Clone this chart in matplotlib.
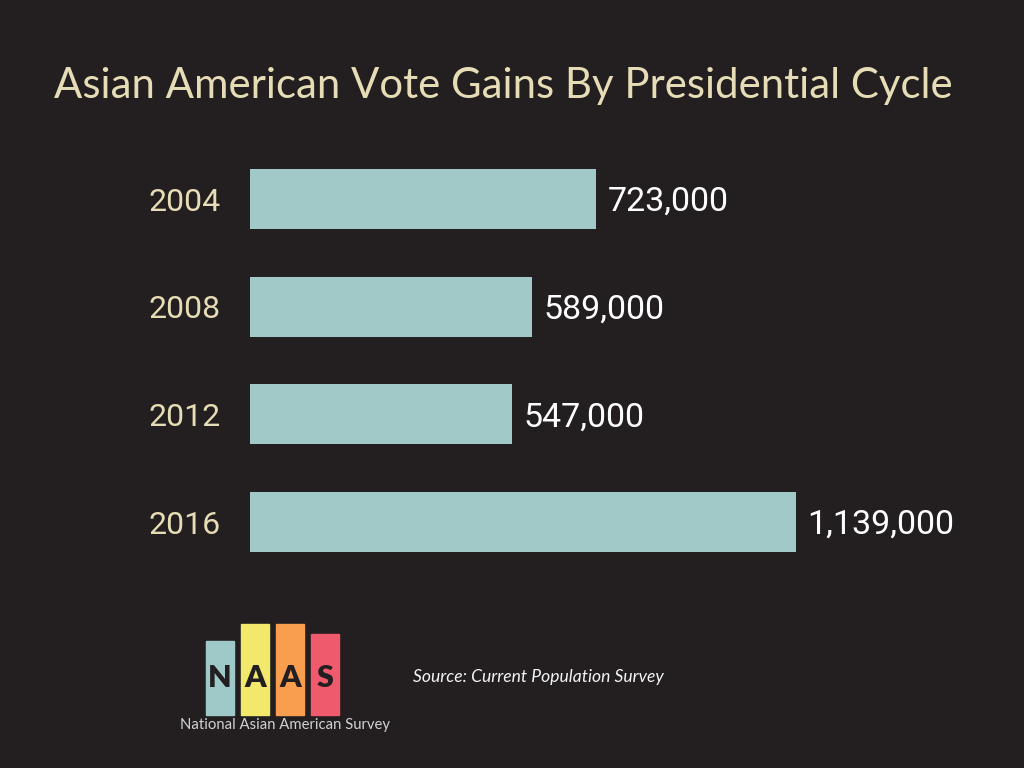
import matplotlib
matplotlib.use("Agg")
import matplotlib.pyplot as plt
from matplotlib.patches import Rectangle

# ---------------------------------------------------------------------------
# Data
# ---------------------------------------------------------------------------
years = ["2004", "2008", "2012", "2016"]
vote_gains = [723000, 589000, 547000, 1139000]
value_labels = ["723,000", "589,000", "547,000", "1,139,000"]

title = "Asian American Vote Gains By Presidential Cycle"
source = "Source: Current Population Survey"
logo_letters = ["N", "A", "A", "S"]
logo_caption = "National Asian American Survey"

# ---------------------------------------------------------------------------
# Style
# ---------------------------------------------------------------------------
BG = "#231f20"
BAR = "#a0c9c8"
BEIGE = "#e6ddb6"
LOGO_COLORS = ["#9fc9c8", "#f2e86c", "#f99d4f", "#ef5a6c"]

W, H = 1024, 768
fig = plt.figure(figsize=(W / 100, H / 100), dpi=100)
fig.patch.set_facecolor(BG)


def fx(px):
    return px / W


def fy(py):
    return 1 - py / H


# axes placed so the bars land where they sit in the original slide
step = 107.7
ax_left, ax_w = 250, 700
ax_top = 199 - step / 2
ax = fig.add_axes([fx(ax_left), fy(ax_top + 4 * step), fx(ax_w), 4 * step / H])
ax.set_facecolor(BG)

pos = list(range(len(years)))
ax.barh(pos, vote_gains, height=0.557, color=BAR, zorder=2)
ax.set_xlim(0, ax_w / 0.479 * 1000)
ax.set_ylim(len(years) - 0.5, -0.5)

ax.set_yticks(pos)
ax.set_yticklabels(years, fontsize=23, color=BEIGE, family="Roboto")
ax.tick_params(axis="y", length=0, pad=21)
ax.set_xticks([])
for s in ax.spines.values():
    s.set_visible(False)

for p, v, lab in zip(pos, vote_gains, value_labels):
    ax.annotate(lab, xy=(v, p), xytext=(8, -2), textcoords="offset points",
                ha="left", va="center", fontsize=24.5, color="white",
                family="Roboto")

# title
fig.text(fx(503), fy(98), title, ha="center", va="baseline",
         fontsize=30.2, color=BEIGE, family="Lato")

# NAAS logo
logo_x = [206, 241, 276, 311]
logo_top = [641, 624, 624, 634]
for x0, t, c, letter in zip(logo_x, logo_top, LOGO_COLORS, logo_letters):
    fig.patches.append(Rectangle((fx(x0), fy(715)), fx(28), (715 - t) / H,
                                 transform=fig.transFigure, color=c))
    fig.text(fx(x0 + 14), fy(687), letter, ha="center", va="baseline",
             fontsize=22, fontweight="heavy", color=BG, family="Lato")

fig.text(fx(285), fy(729), logo_caption, ha="center", va="baseline",
         fontsize=10.7, color="#d2d2d2", family="Lato")

fig.text(fx(413), fy(682), source, ha="left", va="baseline",
         fontsize=12.6, style="italic", color="#f4f4f4", family="Lato")

fig.savefig("out.png", dpi=100, facecolor=fig.get_facecolor())
